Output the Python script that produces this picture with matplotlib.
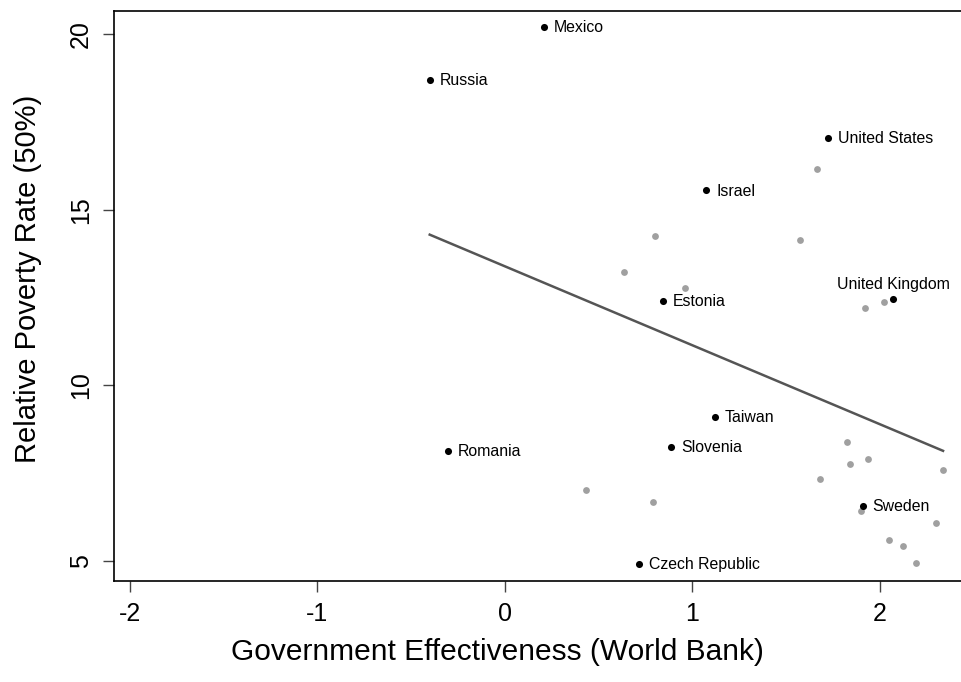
import numpy as np
import matplotlib
matplotlib.use("Agg")
import matplotlib.pyplot as plt

plt.rcParams['font.family'] = ['Liberation Sans', 'DejaVu Sans']

# labelled countries (black points)
countries = ["Mexico", "Russia", "United States", "Israel", "Estonia", "United Kingdom",
             "Taiwan", "Slovenia", "Romania", "Sweden", "Czech Republic"]
gov_eff = [0.21, -0.40, 1.727, 1.076, 0.844, 2.071, 1.121, 0.888, -0.302, 1.909, 0.717]
poverty = [20.20, 18.70, 17.05, 15.55, 12.41, 12.46, 9.10, 8.25, 8.12, 6.55, 4.90]

# unlabelled countries (grey points)
other_eff = [1.665, 0.803, 1.575, 0.635, 0.963, 2.021, 1.923, 1.827, 1.936, 1.843,
             2.338, 1.683, 0.434, 0.792, 1.898, 2.300, 2.050, 2.124, 2.195]
other_pov = [16.15, 14.26, 14.15, 13.23, 12.76, 12.37, 12.19, 8.37, 7.90, 7.75,
             7.58, 7.33, 7.01, 6.67, 6.42, 6.06, 5.59, 5.41, 4.92]

# fitted line
fit_intercept = 13.39
fit_slope = -2.25

fig = plt.figure(figsize=(9.61, 6.82), dpi=100)
ax = fig.add_axes([114/961, 1-581/682, 1-114/961 + 0.01, (581-11.3)/682])

ax.scatter(other_eff, other_pov, s=24, color="#a0a0a0", zorder=2, linewidths=0)
ax.scatter(gov_eff, poverty, s=26, color="black", zorder=3, linewidths=0)

all_x = np.array(gov_eff + other_eff)
xs = np.array([all_x.min(), all_x.max()])
ax.plot(xs, fit_intercept + fit_slope * xs, color="#555555", linewidth=1.8, zorder=1)

for name, x, y in zip(countries, gov_eff, poverty):
    if name == "United Kingdom":
        ax.annotate(name, (x, y), xytext=(0, 10), textcoords="offset points",
                    ha="center", va="center", fontsize=11.4)
    else:
        ax.annotate(name, (x, y), xytext=(7, -0.5), textcoords="offset points",
                    ha="left", va="center", fontsize=11.4)

ax.set_xlim(-2.084, 2.435 + 0.05)
ax.set_ylim(4.42, 20.655)
ax.set_xticks([-2, -1, 0, 1, 2])
ax.set_xticklabels(["-2", "-1", "0", "1", "2"])
ax.set_yticks([5, 10, 15, 20])
ax.set_yticklabels(["5", "10", "15", "20"], rotation=90, va="center")

ax.spines["right"].set_visible(False)
for s in ["left", "bottom", "top"]:
    ax.spines[s].set_linewidth(1.2)
ax.tick_params(axis="both", length=8, width=1.0, color="#444444", labelsize=18)
ax.tick_params(axis="x", pad=7)
ax.tick_params(axis="y", pad=7)

fig.text(497/961, 1-652/682, "Government Effectiveness (World Bank)", ha="center", va="center", fontsize=21.5)
fig.text(28/961, 1-278.5/682, "Relative Poverty Rate (50%)", ha="center", va="center",
         rotation=90, fontsize=21)

fig.savefig("out.png", dpi=100)
